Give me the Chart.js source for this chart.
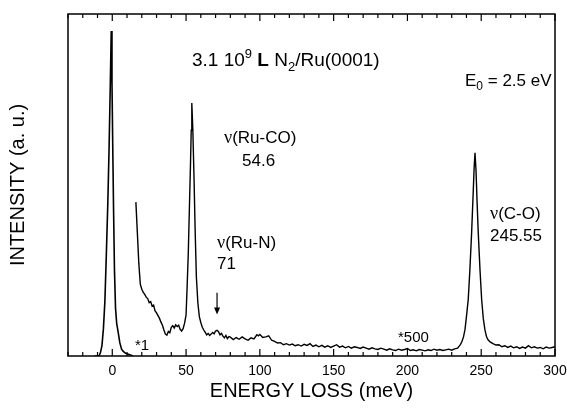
<!DOCTYPE html>
<html>
<head>
<meta charset="utf-8">
<script src="https://cdn.jsdelivr.net/npm/chart.js@4.4.1/dist/chart.umd.min.js"></script>
<style>
  html, body { margin: 0; padding: 0; background: #fff; }
  canvas { display: block; }
</style>
</head>
<body>
<canvas id="eels" width="567" height="409"></canvas>
<script>
// elastic peak, scale *1
const lossX1 = [-12, -9, -8, -7, -6, -5, -4, -3, -2.2, -1.4, -0.7, -0.2, 0.3, 0.9, 1.5, 2.2, 3, 3.9, 5.1, 6.3, 7.3, 9, 11.9, 14]
const intensity1 = [0, 0, 1, 3, 8, 16, 30, 45, 60, 78, 95, 80, 62, 42, 25, 14, 9.5, 7.2, 3.9, 2, 1.4, 0.8, 0.4, 0]

// loss region, scale *500
const lossX500 = [
  16, 17, 18, 19, 20, 21, 22, 23, 24, 25, 26, 27, 28, 29, 30, 31, 32, 33, 34, 35,
  36, 37, 38, 39, 40, 41, 42, 43, 44, 45, 46, 47, 48, 49, 50, 50.7, 51.5, 52.3, 53, 53.5,
  53.9, 54.6, 55.4, 56.2, 57, 58, 59, 60, 61, 62, 63, 64, 65, 66, 67, 68, 69, 70, 71, 72,
  73, 74, 75, 76, 77, 78, 79, 80, 82, 84, 86, 88, 90, 92, 94, 96, 98, 99, 100, 102,
  104, 106, 108, 110, 112, 114, 116, 118, 120, 122, 124, 126, 128, 130, 132, 134, 136, 138, 140, 142,
  144, 146, 148, 150, 152, 154, 156, 158, 160, 162, 164, 166, 168, 170, 172, 174, 176, 178, 180, 182,
  184, 186, 188, 190, 192, 194, 196, 198, 200, 202, 204, 206, 208, 210, 212, 214, 216, 218, 220, 222,
  224, 226, 228, 230, 232, 234, 236, 237, 238, 239, 240, 241.2, 242.3, 243.5, 244.5, 245.2, 245.8, 246.5, 247.2, 248,
  249.2, 250.3, 251.4, 252.5, 253.5, 254.5, 256, 258, 260, 262, 264, 266, 268, 270, 272, 274, 276, 278, 280, 282,
  284, 286, 288, 290, 292, 294, 296, 298, 300
]
const intensity500 = [
  45, 36, 27, 21, 19.5, 18.6, 18.0, 17.2, 16.8, 15.6, 15.9, 14.6, 14.9, 13.2, 12.6, 11.8, 11.0, 9.9, 9.0, 7.6,
  6.4, 6.1, 7.2, 6.8, 8.4, 8.9, 8.2, 9.1, 8.6, 9.0, 7.8, 7.3, 8.0, 9.6, 12, 20, 30, 44, 56, 66,
  74, 66, 52, 36, 23, 15.5, 11.5, 9.8, 8.4, 7.6, 6.9, 6.2, 6.6, 6.0, 6.4, 6.9, 6.5, 7.3, 7.5, 7.1,
  6.2, 6.6, 5.8, 5.3, 6.0, 5.1, 5.7, 5.5, 4.8, 5.4, 4.9, 5.6, 5.0, 4.6, 5.3, 5.0, 6.2, 5.9, 6.3, 5.4,
  5.6, 5.9, 4.6, 4.3, 3.8, 3.9, 3.3, 3.6, 3.2, 3.5, 3.0, 3.3, 2.9, 3.4, 3.1, 3.6, 2.8, 3.2, 2.7, 3.1,
  2.6, 3.0, 2.5, 2.9, 3.3, 2.6, 2.9, 2.4, 2.8, 2.3, 2.7, 2.5, 2.2, 2.6, 2.3, 2.0, 2.4, 2.1, 1.9, 2.3,
  2.0, 1.7, 2.1, 1.8, 1.6, 2.0, 1.7, 1.9, 2.2, 1.6, 1.8, 1.5, 1.9, 1.7, 1.5, 1.8, 1.6, 2.0, 1.7, 1.9,
  1.6, 1.8, 2.0, 1.7, 2.1, 2.3, 3.4, 4.3, 5.6, 7.7, 11.5, 16.5, 25, 36, 47, 55, 59.4, 54, 45, 36,
  25, 16.5, 11, 7.7, 5.8, 4.8, 4.1, 3.6, 3.2, 3.3, 2.7, 3.0, 2.5, 2.9, 2.4, 2.7, 2.2, 2.6, 2.3, 3.0,
  2.4, 2.7, 2.3, 2.5, 2.1, 2.6, 2.3, 2.5, 2.7
]

const xTickLabels = [0, 50, 100, 150, 200, 250, 300]

const SANS = "'Liberation Sans', Arial, sans-serif"
const SERIF = "'Liberation Serif', 'Times New Roman', serif"

function drawRich(ctx, x, y, parts) {
  parts.forEach((p) => {
    ctx.font = p.font
    ctx.fillText(p.text, x, y + (p.dy || 0))
    x += ctx.measureText(p.text).width
  })
}

// frame with inward ticks on top and bottom
const framePlugin = {
  id: "frame",
  afterDatasetsDraw(chart) {
    const { ctx, chartArea: a, scales } = chart
    ctx.save()
    ctx.strokeStyle = "#000"
    ctx.lineWidth = 1.5
    ctx.strokeRect(a.left, a.top, a.right - a.left, a.bottom - a.top)
    ctx.lineWidth = 1.2
    scales.x.ticks.forEach((t) => {
      const px = scales.x.getPixelForValue(t.value)
      const len = xTickLabels.includes(Math.round(t.value)) ? 7 : 4
      ctx.beginPath()
      ctx.moveTo(px, a.bottom)
      ctx.lineTo(px, a.bottom - len)
      ctx.moveTo(px, a.top)
      ctx.lineTo(px, a.top + len)
      ctx.stroke()
    })
    ctx.restore()
  }
}

// peak labels and notes
const notesPlugin = {
  id: "notes",
  afterDraw(chart) {
    const { ctx, scales } = chart
    ctx.save()
    ctx.fillStyle = "#000"
    ctx.textBaseline = "alphabetic"
    ctx.textAlign = "left"

    drawRich(ctx, 192, 66, [
      { text: "3.1 10", font: "19px " + SANS },
      { text: "9", font: "13px " + SANS, dy: -8 },
      { text: " ", font: "19px " + SANS },
      { text: "L", font: "bold 19px " + SANS },
      { text: " N", font: "19px " + SANS },
      { text: "2", font: "13px " + SANS, dy: 5 },
      { text: "/Ru(0001)", font: "19px " + SANS }
    ])

    drawRich(ctx, 465, 86, [
      { text: "E", font: "17px " + SANS },
      { text: "0", font: "12px " + SANS, dy: 4 },
      { text: " = 2.5 eV", font: "17px " + SANS }
    ])

    drawRich(ctx, 224, 143, [
      { text: "\u03BD", font: "18px " + SERIF },
      { text: "(Ru-CO)", font: "17px " + SANS }
    ])
    ctx.font = "17px " + SANS
    ctx.fillText("54.6", 242, 166)

    drawRich(ctx, 217, 248, [
      { text: "\u03BD", font: "18px " + SERIF },
      { text: "(Ru-N)", font: "17px " + SANS }
    ])
    ctx.font = "17px " + SANS
    ctx.fillText("71", 217, 269)

    drawRich(ctx, 490, 219, [
      { text: "\u03BD", font: "18px " + SERIF },
      { text: "(C-O)", font: "17px " + SANS }
    ])
    ctx.font = "17px " + SANS
    ctx.fillText("245.55", 490, 241)

    ctx.font = "15px " + SANS
    ctx.fillText("*1", 135, 350)
    ctx.fillText("*500", 398, 342)

    // arrow at the Ru-N mode
    const ax = scales.x.getPixelForValue(71)
    const y0 = scales.y.getPixelForValue(18.5)
    const y1 = scales.y.getPixelForValue(12.1)
    ctx.strokeStyle = "#000"
    ctx.lineWidth = 1.2
    ctx.beginPath()
    ctx.moveTo(ax, y0)
    ctx.lineTo(ax, y1 - 5)
    ctx.stroke()
    ctx.beginPath()
    ctx.moveTo(ax - 3, y1 - 7)
    ctx.lineTo(ax + 3, y1 - 7)
    ctx.lineTo(ax, y1)
    ctx.closePath()
    ctx.fill()
    ctx.restore()
  }
}

const toPoints = (xs, ys) => xs.map((x, i) => ({ x: x, y: ys[i] }))

new Chart(document.getElementById("eels"), {
  type: "scatter",
  data: {
    datasets: [
      {
        label: "*1",
        data: toPoints(lossX1, intensity1),
        showLine: true,
        borderColor: "#000",
        borderWidth: 1.6,
        pointRadius: 0,
        tension: 0
      },
      {
        label: "*500",
        data: toPoints(lossX500, intensity500),
        showLine: true,
        borderColor: "#000",
        borderWidth: 1.4,
        pointRadius: 0,
        tension: 0
      }
    ]
  },
  options: {
    responsive: false,
    animation: false,
    layout: { padding: { top: 14, right: 12, left: 0, bottom: 0 } },
    plugins: {
      legend: { display: false },
      tooltip: { enabled: false }
    },
    scales: {
      x: {
        type: "linear",
        min: -30,
        max: 300,
        grid: { display: false, drawTicks: false },
        border: { display: false },
        ticks: {
          stepSize: 10,
          autoSkip: false,
          maxRotation: 0,
          padding: 7,
          color: "#000",
          font: { family: SANS, size: 14 },
          callback: (v) => (xTickLabels.includes(Math.round(v)) ? String(Math.round(v)) : "")
        },
        title: {
          display: true,
          text: "ENERGY LOSS (meV)",
          color: "#000",
          font: { family: SANS, size: 20 },
          padding: { top: 0, bottom: 6 }
        },
        afterFit: (scale) => {
          scale.height = 53
          scale.paddingLeft = 0
          scale.paddingRight = 0
        }
      },
      y: {
        min: 0,
        max: 100,
        grid: { display: false, drawTicks: false },
        border: { display: false },
        ticks: { display: false },
        title: {
          display: true,
          text: "INTENSITY (a. u.)",
          color: "#000",
          font: { family: SANS, size: 20 },
          padding: { top: 6, bottom: 0 }
        },
        afterFit: (scale) => { scale.width = 68 }
      }
    }
  },
  plugins: [framePlugin, notesPlugin]
})
</script>
</body>
</html>
